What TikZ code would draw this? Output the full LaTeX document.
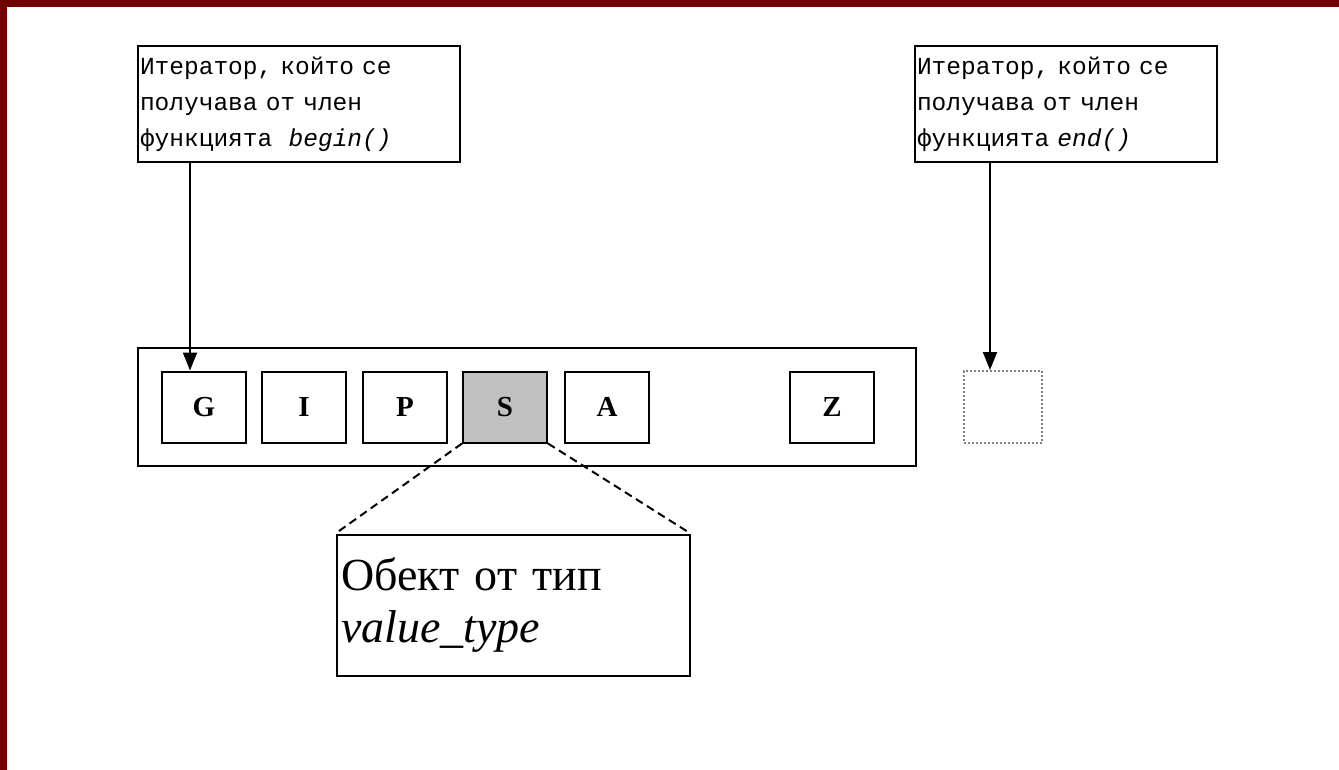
\documentclass[tikz,border=0pt]{standalone}
\usepackage{fontspec}
\setmainfont{Liberation Serif}
\newfontfamily\notefont{Liberation Mono}
\usetikzlibrary{arrows.meta}
\definecolor{frame}{RGB}{112,0,0}
\definecolor{cellgray}{RGB}{192,192,192}
\begin{document}
\begin{tikzpicture}[x=1pt, y=-1pt,
  note/.style={draw, line width=2pt, minimum width=322pt, minimum height=116pt,
    text width=318pt, align=left, inner sep=1pt,
    font=\notefont\fontsize{24.5}{36}\selectfont},
  cell/.style={draw, line width=2pt, minimum width=84pt, minimum height=71pt,
    inner sep=0pt, font=\bfseries\fontsize{29}{29}\selectfont},
  pointer/.style={line width=2pt, -{Triangle[length=18pt, width=14pt]}},
  zoomline/.style={line width=2pt, dash pattern=on 8pt off 5pt}]
  \useasboundingbox (0,0) rectangle (1339,770);
  \fill[frame] (0,0) rectangle (1339,7);
  \fill[frame] (0,0) rectangle (7,770);

  % iterators
  \node[note] (beginbox) at (299,104) {Итератор, който се\\получава от член\\функцията\ \ \textit{begin()}};
  \node[note, minimum width=302pt, text width=298pt] (endbox) at (1066,104) {Итератор, който се\\получава от член\\функцията \textit{end()}};

  % container
  \node[draw, line width=2pt, minimum width=778pt, minimum height=118pt] (cont) at (527,407) {};
  \node[cell] (G) at (204,407) {G};
  \node[cell] (I) at (304,407) {I};
  \node[cell] (P) at (405,407) {P};
  \node[cell, fill=cellgray] (S) at (505,407) {S};
  \node[cell] (A) at (607,407) {A};
  \node[cell] (Z) at (832,407) {Z};
  \node[draw=gray, line width=2pt, dotted, minimum width=78pt, minimum height=72pt] (past) at (1003,407) {};

  % element
  \node[draw, line width=2pt, minimum width=353pt, minimum height=141pt,
    text width=344pt, align=left, inner sep=4pt,
    font=\fontsize{46}{52}\selectfont] (elem) at (513,605)
    {Обект от тип\\\textit{value\_type}};

  \draw[pointer] ([xshift=53pt]beginbox.south west) -- ([xshift=29pt]G.north west);
  \draw[pointer] ([xshift=76pt]endbox.south west) -- ([xshift=27pt]past.north west);
  \draw[zoomline] (S.south west) -- (elem.north west);
  \draw[zoomline] (S.south east) -- (elem.north east);
\end{tikzpicture}
\end{document}
